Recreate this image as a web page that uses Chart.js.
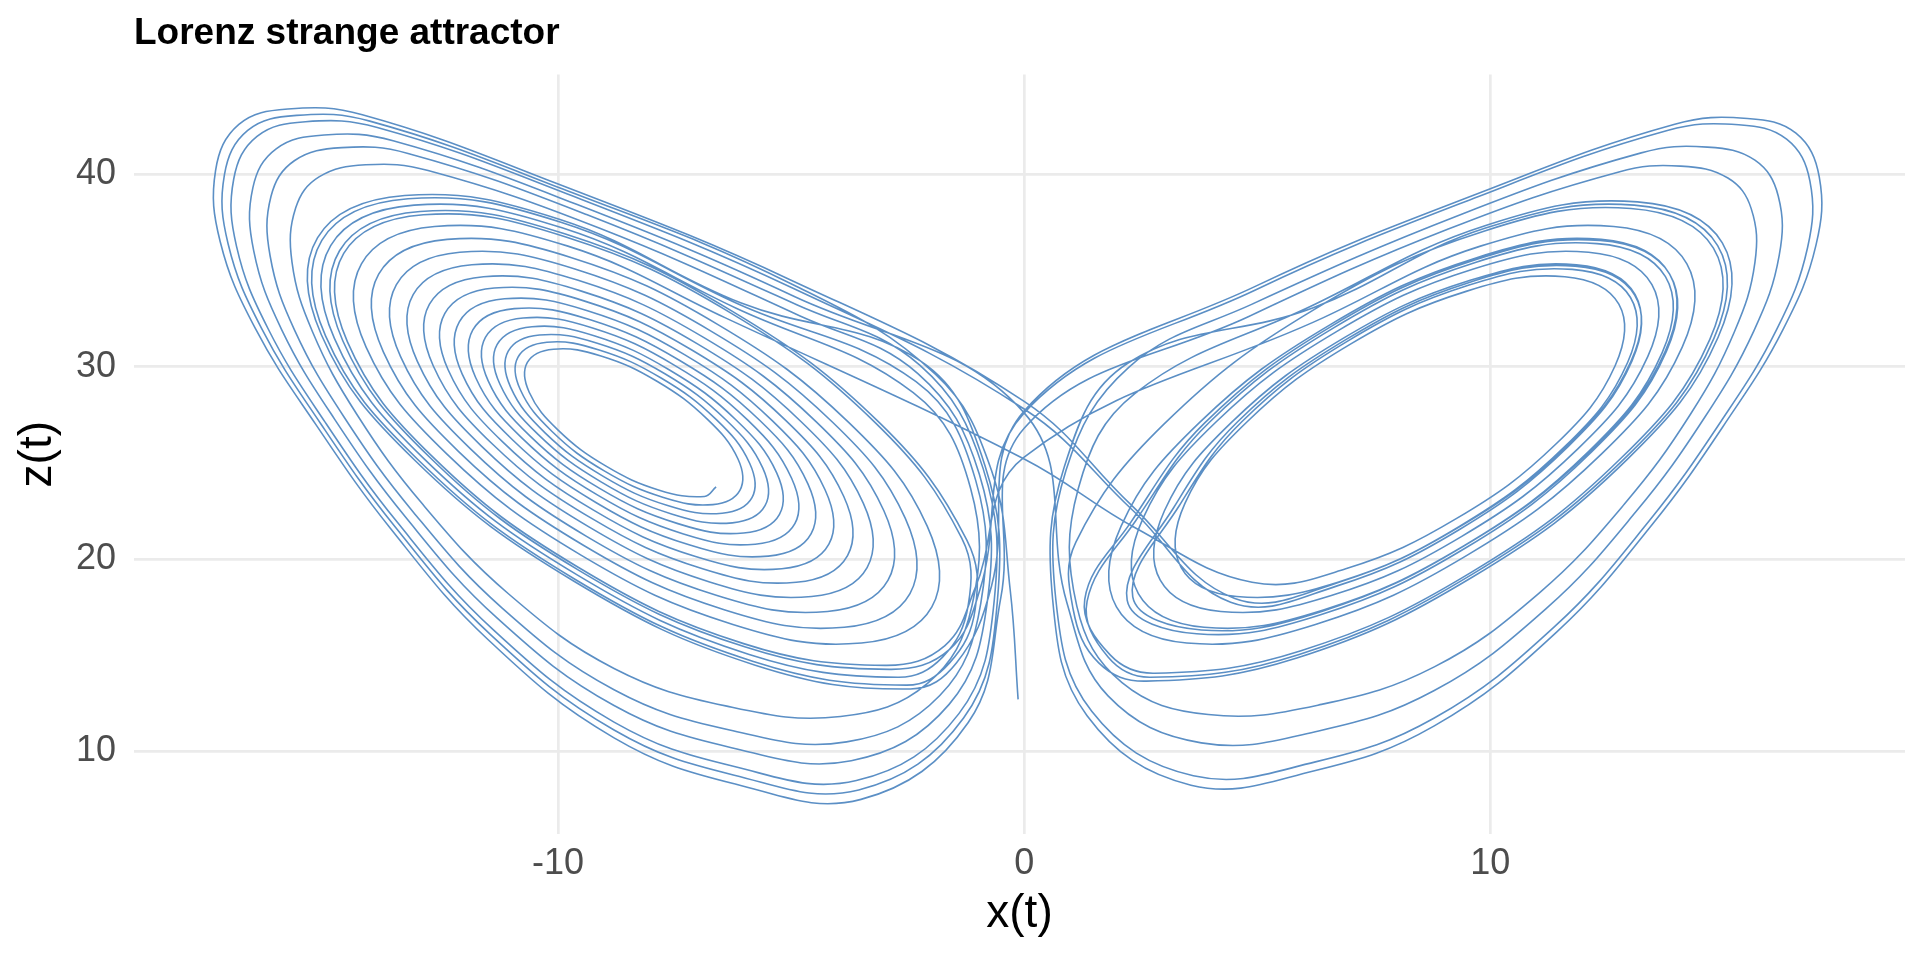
<!DOCTYPE html>
<html>
<head>
<meta charset="utf-8">
<script src="https://cdn.jsdelivr.net/npm/chart.js@4/dist/chart.umd.min.js"></script>
<style>
  html, body { margin: 0; padding: 0; background: #fff; }
  #wrap { width: 1920px; height: 960px; }
</style>
</head>
<body>
<div id="wrap"><canvas id="lorenzChart"></canvas></div>
<script>
// tick positions
const xTicks = [-10, 0, 10];
const zTicks = [10, 20, 30, 40];

// trajectory as [x(t), z(t)], in time order

// start near the left fixed point and spiral outwards
const leftSpiral = [
  [-6.61, 23.75],
  [-6.86, 23.25], [-7.83, 23.58], [-8.98, 24.84], [-10.0, 26.70], [-10.62, 28.67], [-10.66, 30.22], [-10.10, 30.91], [-9.08, 30.56], [-7.87, 29.23], [-6.80, 27.27], [-6.14, 25.20],
  [-6.10, 23.57], [-6.68, 22.83], [-7.74, 23.20], [-9.01, 24.58], [-10.13, 26.63], [-10.81, 28.80], [-10.86, 30.50], [-10.24, 31.27], [-9.12, 30.87], [-7.79, 29.41], [-6.61, 27.26], [-5.89, 24.98],
  [-5.84, 23.19], [-6.48, 22.38], [-7.65, 22.78], [-9.04, 24.31], [-10.28, 26.56], [-11.02, 28.94], [-11.07, 30.81], [-10.40, 31.65], [-9.16, 31.22], [-7.70, 29.62], [-6.40, 27.24], [-5.61, 24.74],
  [-5.56, 22.77], [-6.26, 21.88], [-7.55, 22.33], [-9.07, 24.0], [-10.43, 26.48], [-11.25, 29.10], [-11.31, 31.15], [-10.56, 32.08], [-9.21, 31.60], [-7.61, 29.83], [-6.18, 27.23], [-5.31, 24.48],
  [-5.25, 22.32], [-6.02, 21.35], [-7.43, 21.84], [-9.11, 23.67], [-10.60, 26.39], [-11.50, 29.26], [-11.56, 31.52], [-10.75, 32.53], [-9.26, 32.01], [-7.50, 30.07], [-5.93, 27.22], [-4.99, 24.20],
  [-4.92, 21.84], [-5.77, 20.77], [-7.31, 21.30], [-9.15, 23.32], [-10.78, 26.30], [-11.77, 29.44], [-11.83, 31.91], [-10.94, 33.02], [-9.31, 32.44], [-7.39, 30.32], [-5.67, 27.20], [-4.64, 23.91],
  [-4.57, 21.32], [-5.49, 20.15], [-7.19, 20.74], [-9.19, 22.94], [-10.98, 26.20], [-12.06, 29.63], [-12.12, 32.33], [-11.15, 33.53], [-9.37, 32.91], [-7.27, 30.60], [-5.40, 27.18], [-4.27, 23.59],
  [-4.19, 20.77], [-5.20, 19.49], [-7.05, 20.13], [-9.24, 22.54], [-11.19, 26.09], [-12.36, 29.84], [-12.43, 32.77], [-11.37, 34.09], [-9.43, 33.41], [-7.14, 30.88], [-5.10, 27.17], [-3.87, 23.25],
  [-3.79, 20.18], [-4.89, 18.79], [-6.90, 19.49], [-9.28, 22.11], [-11.41, 25.98], [-12.68, 30.05], [-12.76, 33.25], [-11.60, 34.68], [-9.50, 33.93], [-7.01, 31.19], [-4.79, 27.15], [-3.45, 22.89],
  [-3.37, 19.55], [-4.56, 18.05], [-6.75, 18.81], [-9.33, 21.66], [-11.64, 25.86], [-13.02, 30.28], [-13.11, 33.75], [-11.85, 35.30], [-9.57, 34.49], [-6.87, 31.51], [-4.46, 27.13], [-3.01, 22.51],
  [-2.92, 18.90], [-4.22, 17.27], [-6.59, 18.10], [-9.39, 21.18], [-11.88, 25.73], [-13.38, 30.52], [-13.47, 34.27], [-12.11, 35.95], [-9.64, 35.08], [-6.72, 31.85], [-4.11, 27.11], [-2.55, 22.11],
  [-2.45, 18.20], [-3.86, 16.45], [-6.42, 17.35], [-9.44, 20.69], [-12.14, 25.60], [-13.75, 30.77], [-13.85, 34.81], [-12.38, 36.62], [-9.71, 35.67], [-6.57, 32.19], [-3.76, 27.09], [-2.08, 21.71],
  [-1.98, 17.51], [-3.49, 15.63], [-6.25, 16.60], [-9.50, 20.19], [-12.39, 25.47], [-14.12, 31.02], [-14.22, 35.35], [-12.65, 37.29], [-9.79, 36.27], [-6.41, 32.54],
  [0.0, 25.2], [2.4, 21.6]
];

const rightVisit1 = [
  [4.89, 18.79], [6.90, 19.49], [9.28, 22.11], [11.41, 25.98], [12.68, 30.05], [12.76, 33.25], [11.60, 34.68], [9.50, 33.93], [7.01, 31.19], [4.79, 27.15], [3.45, 22.89],
  [3.37, 19.55], [4.56, 18.05], [6.75, 18.81], [9.33, 21.66], [11.64, 25.86], [13.02, 30.28], [13.11, 33.75], [11.85, 35.30], [9.57, 34.49], [6.87, 31.51], [4.46, 27.13], [3.01, 22.51],
  [2.92, 18.90], [4.22, 17.27], [6.59, 18.10], [9.39, 21.18], [11.88, 25.73], [13.38, 30.52], [13.47, 34.27], [12.11, 35.95], [9.64, 35.08], [6.72, 31.85], [4.11, 27.11], [2.55, 22.11],
  [2.45, 18.20], [3.86, 16.45], [6.42, 17.35], [9.44, 20.69], [12.14, 25.60], [13.75, 30.77], [13.85, 34.81], [12.38, 36.62], [9.71, 35.67], [6.57, 32.19], [3.76, 27.09], [2.08, 21.71],
  [1.98, 17.51], [3.49, 15.63], [6.25, 16.60], [9.50, 20.19], [12.39, 25.47], [14.12, 31.02], [14.22, 35.35], [12.65, 37.29], [9.79, 36.27], [6.41, 32.54],
  [0.0, 25.3]
];

const leftVisit2 = [
  [-1.05, 18.5], [-1.7, 15.5], [-2.98, 14.47], [-6.02, 15.60], [-9.57, 19.57], [-12.69, 25.31], [-14.52, 31.29], [-14.60, 35.89], [-12.89, 37.90], [-9.85, 36.76], [-6.30, 32.80], [-3.18, 27.05], [-1.34, 21.08],
  [-1.2, 17.6], [-1.75, 14.9], [-2.71, 13.85], [-5.90, 15.04], [-9.61, 19.20], [-12.88, 25.22], [-14.80, 31.47], [-14.88, 36.30], [-13.09, 38.40], [-9.90, 37.21], [-6.19, 33.05],
  [-2.38, 28.65], [-1.15, 23.68], [-1.12, 17.56], [-2.08, 13.52], [-3.94, 11.81], [-6.38, 12.35], [-8.8, 14.31], [-11.06, 18.18], [-12.9, 22.83], [-14.32, 27.53], [-15.27, 31.82], [-15.71, 35.44], [-15.63, 38.26], [-15.13, 39.87], [-14.13, 40.5], [-12.79, 40.2], [-9.12, 37.21], [-4.82, 32.65],
  [-2.28, 29.64], [-0.96, 24.39], [-0.79, 17.8], [-1.61, 12.44], [-3.71, 9.51], [-6.28, 10.19], [-8.8, 12.38], [-11.3, 16.91], [-13.27, 22.17], [-14.79, 27.25], [-15.93, 31.92], [-16.53, 36.01], [-16.55, 39.3], [-16.05, 41.33], [-15.02, 42.05], [-13.54, 41.75], [-9.59, 38.43], [-4.92, 33.64],
  [0.0, 27.6]
];

const rightVisit2 = [
  [0.92, 17.7], [1.8, 12.88], [3.8, 10.44], [6.32, 11.06], [8.8, 13.16], [11.2, 17.42], [13.12, 22.44], [14.6, 27.36], [15.66, 31.88], [16.2, 35.78], [16.18, 38.88], [15.68, 40.74], [14.66, 41.42], [13.24, 41.12], [9.4, 37.94], [4.88, 33.24],
  [2.25, 29.98], [0.9, 24.63], [0.68, 17.88], [1.45, 12.08], [3.63, 8.73], [6.25, 9.45], [8.8, 11.73], [11.38, 16.48], [13.4, 21.95], [14.95, 27.15], [16.15, 31.95], [16.81, 36.2], [16.86, 39.65], [16.36, 41.83], [15.33, 42.58], [13.8, 42.28], [9.75, 38.85], [4.95, 33.98],
  [0.0, 27.6]
];

const leftVisit3 = [
  [-0.95, 18.4], [-1.6, 15.3], [-2.89, 14.26], [-5.98, 15.42], [-9.58, 19.45], [-12.75, 25.28], [-14.62, 31.35], [-14.69, 36.03], [-12.96, 38.07], [-9.86, 36.91], [-6.26, 32.88], [-3.09, 27.05], [-1.23, 20.98],
  [-1.05, 17.4], [-1.6, 14.6], [-2.53, 13.44], [-5.81, 14.67], [-9.64, 18.95], [-13.0, 25.15], [-14.99, 31.60], [-15.07, 36.57], [-13.22, 38.73], [-9.94, 37.51], [-6.11, 33.23],
  [-2.32, 29.22], [-1.04, 24.09], [-0.93, 17.7], [-1.81, 12.9], [-3.81, 10.49], [-6.32, 11.11], [-8.8, 13.2], [-11.2, 17.45], [-13.11, 22.45], [-14.59, 27.37], [-15.65, 31.88], [-16.18, 35.77], [-16.16, 38.86], [-15.66, 40.71], [-14.64, 41.39], [-13.22, 41.09], [-9.39, 37.91], [-4.88, 33.22],
  [-2.24, 30.08], [-0.88, 24.7], [-0.64, 17.9], [-1.4, 11.96], [-3.6, 8.48], [-6.24, 9.22], [-8.8, 11.52], [-11.4, 16.34], [-13.44, 21.88], [-15.0, 27.12], [-16.22, 31.96], [-16.9, 36.26], [-16.96, 39.76], [-16.46, 41.98], [-15.42, 42.74], [-13.88, 42.44], [-9.8, 38.98], [-4.96, 34.08],
  [0.0, 27.8], [2.3, 22.6]
];

const rightVisit3 = [
  [4.43, 17.75], [6.70, 18.59], [9.35, 21.55], [11.67, 25.84], [13.04, 30.29], [13.10, 33.73], [11.82, 35.23], [9.55, 34.38], [6.91, 31.42], [4.58, 27.14], [3.21, 22.68],
  [2.21, 17.86], [3.70, 16.11], [6.36, 17.10], [9.46, 20.56], [12.18, 25.58], [13.78, 30.79], [13.85, 34.81], [12.36, 36.56], [9.70, 35.57], [6.60, 32.11], [3.88, 27.09], [2.28, 21.88],
  [1.3, 17.9], [1.85, 15.0], [2.80, 14.06], [5.94, 15.23], [9.60, 19.32], [12.81, 25.25], [14.71, 31.41], [14.79, 36.17], [13.02, 38.23], [9.88, 37.06], [6.22, 32.97], [3.01, 27.04], [1.11, 20.88],
  [1.05, 17.4], [1.6, 14.6], [2.62, 13.65], [5.85, 14.85], [9.63, 19.08], [12.94, 25.18], [14.89, 31.53], [14.98, 36.44], [13.16, 38.57], [9.92, 37.36], [6.15, 33.14],
  [2.38, 28.61], [1.16, 23.65], [1.13, 17.55], [2.1, 13.57], [3.95, 11.91], [6.38, 12.44], [8.8, 14.39], [11.05, 18.23], [12.88, 22.86], [14.3, 27.54], [15.24, 31.82], [15.68, 35.42], [15.6, 38.22], [15.1, 39.81], [14.09, 40.43], [12.76, 40.13], [9.1, 37.16], [4.82, 32.61],
  [0.0, 26.8]
];

const leftVisit4 = [
  [-0.5, 18.0], [-1.2, 11.5], [-3.5, 7.5], [-6.2, 8.3], [-8.8, 10.7], [-11.5, 15.8], [-13.6, 21.6], [-15.2, 27.0], [-16.5, 32.0], [-17.25, 36.5], [-17.35, 40.2], [-16.85, 42.6], [-15.8, 43.4], [-14.2, 43.1], [-10.0, 39.5], [-5.0, 34.5],
  [0.0, 28.2], [2.3, 22.8]
];

const rightVisit4 = [
  [4.52, 17.95], [6.74, 18.78], [9.33, 21.68], [11.61, 25.87], [12.95, 30.23], [13.01, 33.60], [11.76, 35.06], [9.53, 34.23], [6.94, 31.33], [4.67, 27.14], [3.33, 22.78],
  [2.33, 18.03], [3.80, 16.31], [6.40, 17.29], [9.44, 20.69], [12.12, 25.61], [13.69, 30.73], [13.76, 34.68], [12.29, 36.40], [9.68, 35.42], [6.64, 32.02], [3.97, 27.10], [2.39, 21.98],
  [1.35, 17.8], [1.8, 14.9], [2.71, 13.85], [5.90, 15.04], [9.61, 19.20], [12.88, 25.22], [14.80, 31.47], [14.88, 36.30], [13.09, 38.40], [9.90, 37.21], [6.19, 33.05],
  [2.23, 30.19], [0.86, 24.78], [0.61, 17.93], [1.35, 11.85], [3.58, 8.24], [6.23, 8.99], [8.8, 11.32], [11.43, 16.21], [13.48, 21.81], [15.05, 27.09], [16.29, 31.97], [16.99, 36.32], [17.06, 39.87], [16.56, 42.14], [15.52, 42.91], [13.96, 42.61], [9.85, 39.11], [4.97, 34.19],
  [0.0, 27.7]
];

const leftVisit5 = [
  [-0.7, 18.6], [-1.45, 14.6], [-2.44, 13.24], [-5.77, 14.48], [-9.65, 18.83], [-13.07, 25.12], [-15.08, 31.66], [-15.16, 36.71], [-13.29, 38.90], [-9.96, 37.66], [-6.07, 33.31],
  [-2.22, 30.29], [-0.84, 24.85], [-0.57, 17.95], [-1.3, 11.73], [-3.55, 7.99], [-6.22, 8.76], [-8.8, 11.11], [-11.45, 16.07], [-13.52, 21.74], [-15.1, 27.06], [-16.36, 31.98], [-17.08, 36.38], [-17.16, 39.98], [-16.66, 42.29], [-15.61, 43.07], [-14.04, 42.77], [-9.9, 39.24], [-4.98, 34.29],
  [-1.9, 29.6], [-0.7, 24.6], [-0.3, 18.4], [-0.13, 12.7]
];

const trajectory = [].concat(
  leftSpiral, rightVisit1, leftVisit2, rightVisit2, leftVisit3,
  rightVisit3, leftVisit4, rightVisit4, leftVisit5
).map(([x, z]) => ({ x: x, y: z }));

const FONT = "'Liberation Sans', Arial, Helvetica, sans-serif";

window.addEventListener("DOMContentLoaded", () => {
  const ctx = document.getElementById("lorenzChart").getContext("2d");

  const chart = new Chart(ctx, {
    type: "scatter",
    data: {
      datasets: [
        {
          label: "Lorenz",
          data: trajectory,
          showLine: true,
          borderColor: "#5b8fc5",
          borderWidth: 1.6,
          pointRadius: 0,
          pointHoverRadius: 0,
          tension: 0.4,
          fill: false,
        },
      ],
    },
    options: {
      responsive: true,
      maintainAspectRatio: false,
      animation: false,
      devicePixelRatio: 1,
      layout: { padding: { left: 0, right: 15, top: 0, bottom: 0 } },
      plugins: {
        legend: { display: false },
        tooltip: { enabled: false },
        title: {
          display: true,
          text: "Lorenz strange attractor",
          align: "start",
          fullSize: false,
          color: "#000000",
          font: { family: FONT, size: 37, weight: "bold" },
          padding: { top: 12, bottom: 18 },
        },
      },
      scales: {
        x: {
          type: "linear",
          min: -19.1,
          max: 18.9,
          afterBuildTicks: (scale) => {
            scale.ticks = xTicks.map((v) => ({ value: v }));
          },
          afterFit: (scale) => {
            scale.height = 126;
          },
          grid: { color: "#ebebeb", lineWidth: 2.7, drawTicks: false },
          border: { display: false },
          ticks: { color: "#4d4d4d", font: { family: FONT, size: 36 }, padding: 8 },
          title: {
            display: true,
            text: "x(t)",
            color: "#000000",
            font: { family: FONT, size: 46 },
            padding: { top: 0, bottom: 18 },
          },
        },
        y: {
          type: "linear",
          min: 5.7,
          max: 45.2,
          afterBuildTicks: (scale) => {
            scale.ticks = zTicks.map((v) => ({ value: v }));
          },
          afterFit: (scale) => {
            scale.width = 134;
          },
          grid: { color: "#ebebeb", lineWidth: 2.7, drawTicks: false },
          border: { display: false },
          ticks: { color: "#4d4d4d", font: { family: FONT, size: 36 }, padding: 18 },
          title: {
            display: true,
            text: "z(t)",
            color: "#000000",
            font: { family: FONT, size: 46 },
            padding: { top: 11, bottom: 0 },
          },
        },
      },
    },
  });
});
</script>
</body>
</html>
